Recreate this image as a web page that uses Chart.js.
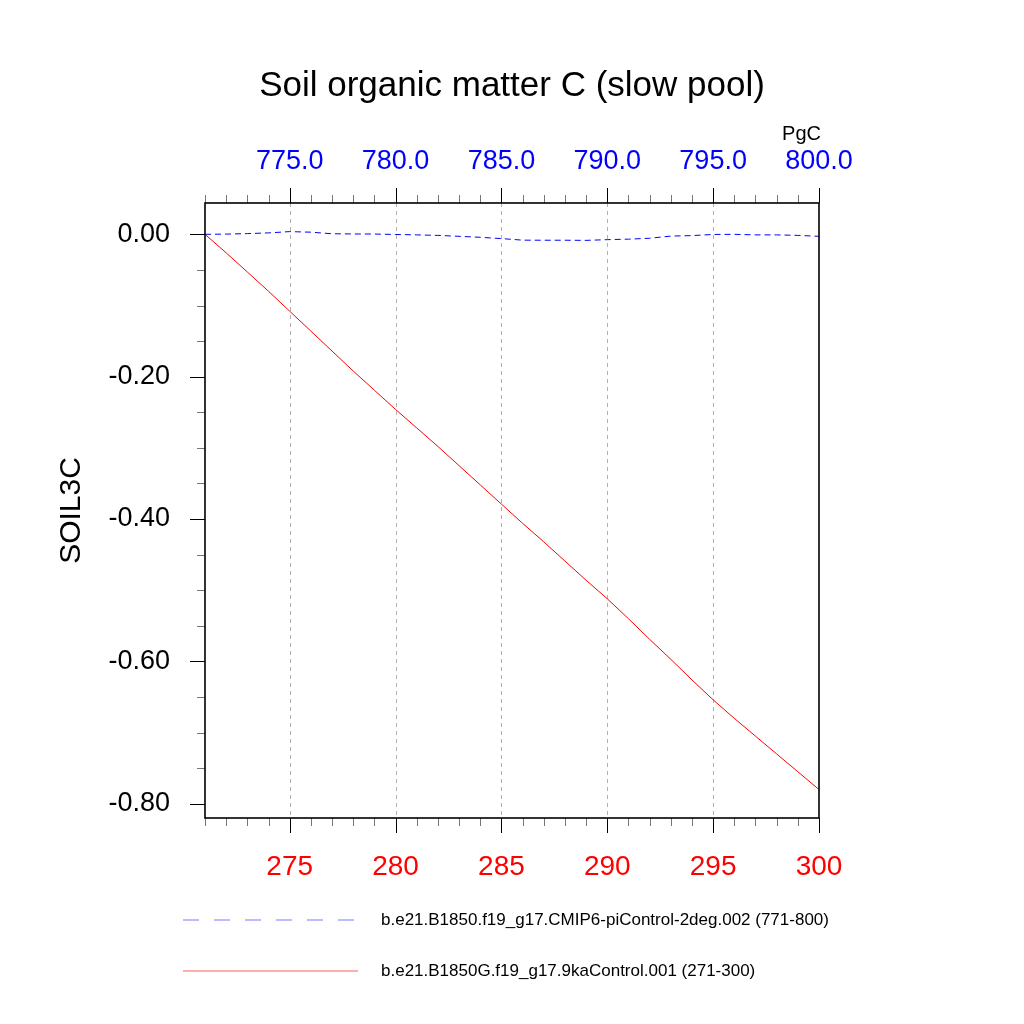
<!DOCTYPE html>
<html>
<head>
<meta charset="utf-8">
<script src="https://cdn.jsdelivr.net/npm/chart.js@4.4.0/dist/chart.umd.min.js"></script>
<style>
body { margin: 0; background: #fff; }
canvas { display: block; }
</style>
</head>
<body>
<canvas id="chart" width="1024" height="1024"></canvas>
<script>
// years of each run
const yearsG = [271, 272, 273, 274, 275, 276, 277, 278, 279, 280, 281, 282, 283, 284, 285,
    286, 287, 288, 289, 290, 291, 292, 293, 294, 295, 296, 297, 298, 299, 300];
const yearsPI = [771, 772, 773, 774, 775, 776, 777, 778, 779, 780, 781, 782, 783, 784, 785,
    786, 787, 788, 789, 790, 791, 792, 793, 794, 795, 796, 797, 798, 799, 800];

// SOIL3C anomaly (PgC)
const soilG = [0, -0.026, -0.053, -0.080, -0.108, -0.136, -0.164, -0.192, -0.219, -0.246,
    -0.272, -0.298, -0.325, -0.352, -0.379, -0.406, -0.432, -0.459, -0.486, -0.512,
    -0.540, -0.569, -0.597, -0.626, -0.654, -0.680, -0.705, -0.730, -0.755, -0.780];
const soilPI = [0, 0.0003, 0.001, 0.002, 0.0038, 0.003, 0.0008, 0.0005, 0.0004, -0.0002,
    -0.0008, -0.0015, -0.0028, -0.0042, -0.006, -0.0082, -0.0083, -0.0083, -0.0085, -0.0075,
    -0.0068, -0.0055, -0.0025, -0.0018, -0.0002, 0.0, -0.0008, -0.0008, -0.0015, -0.0028];

const labelG = "b.e21.B1850G.f19_g17.9kaControl.001 (271-300)";
const labelPI = "b.e21.B1850.f19_g17.CMIP6-piControl-2deg.002 (771-800)";

// labelled ticks
const bottomTicks = [275, 280, 285, 290, 295, 300];
const topTicks = [775, 780, 785, 790, 795, 800];
const leftTicks = [0, -0.2, -0.4, -0.6, -0.8];

const FONT = "'Liberation Sans', Arial, Helvetica, sans-serif";

function hasTick(list, v) {
    return list.some(t => Math.abs(t - v) < 1e-6);
}

function strokeLine(ctx, x1, y1, x2, y2) {
    ctx.beginPath();
    ctx.moveTo(x1, y1);
    ctx.lineTo(x2, y2);
    ctx.stroke();
}

const nclFrame = {
    id: 'nclFrame',
    beforeDatasetsDraw(chart) {
        const { ctx, chartArea: a, scales } = chart;
        ctx.save();
        ctx.strokeStyle = '#b0b0b0';
        ctx.lineWidth = 1;
        ctx.setLineDash([4, 4]);
        bottomTicks.filter(v => v < 300).forEach(v => {
            const px = Math.round(scales.x.getPixelForValue(v)) + 0.5;
            strokeLine(ctx, px, a.top, px, a.bottom);
        });
        ctx.restore();
    },
    afterDatasetsDraw(chart) {
        const { ctx, chartArea: a, scales } = chart;
        ctx.save();
        ctx.lineWidth = 1;

        // bottom axis ticks
        yearsG.forEach(v => {
            const px = Math.round(scales.x.getPixelForValue(v)) + 0.5;
            const major = hasTick(bottomTicks, v);
            ctx.strokeStyle = major ? '#000' : '#777';
            strokeLine(ctx, px, a.bottom, px, a.bottom + (major ? 15 : 8));
        });
        // top axis ticks
        yearsPI.forEach(v => {
            const px = Math.round(scales.x2.getPixelForValue(v)) + 0.5;
            const major = hasTick(topTicks, v);
            ctx.strokeStyle = major ? '#000' : '#777';
            strokeLine(ctx, px, a.top, px, a.top - (major ? 15 : 8));
        });
        // left axis ticks every 0.05
        for (let i = 0; i <= 16; i++) {
            const v = -0.05 * i;
            const py = Math.round(scales.y.getPixelForValue(v)) + 0.5;
            const major = hasTick(leftTicks, v);
            ctx.strokeStyle = major ? '#000' : '#777';
            strokeLine(ctx, a.left, py, a.left - (major ? 15 : 8), py);
        }

        // frame
        ctx.strokeStyle = '#000';
        ctx.lineWidth = 1.6;
        ctx.strokeRect(a.left, a.top, a.right - a.left, a.bottom - a.top);
        ctx.restore();
    },
    afterDraw(chart) {
        const { ctx } = chart;
        ctx.save();
        ctx.fillStyle = '#000';

        ctx.font = '35px ' + FONT;
        ctx.textAlign = 'center';
        ctx.textBaseline = 'alphabetic';
        ctx.fillText('Soil organic matter C (slow pool)', 512, 96);

        ctx.font = '20px ' + FONT;
        ctx.textAlign = 'right';
        ctx.fillText('PgC', 821, 140);

        // legend
        const entries = [
            { ds: chart.data.datasets[1], y: 920, x2: 355 },
            { ds: chart.data.datasets[0], y: 971, x2: 358 }
        ];
        ctx.font = '17px ' + FONT;
        ctx.textAlign = 'left';
        ctx.textBaseline = 'middle';
        entries.forEach(e => {
            ctx.strokeStyle = e.ds.legendColor;
            ctx.lineWidth = 1;
            ctx.setLineDash(e.ds.legendDash);
            strokeLine(ctx, 183, e.y, e.x2, e.y);
            ctx.setLineDash([]);
            ctx.fillText(e.ds.label, 381, e.y);
        });
        ctx.restore();
    }
};

new Chart(document.getElementById('chart'), {
    type: 'line',
    data: {
        datasets: [
            {
                label: labelG,
                data: yearsG.map((x, i) => ({ x: x, y: soilG[i] })),
                xAxisID: 'x',
                borderColor: 'rgba(255, 0, 0, 1)',
                borderWidth: 1,
                pointRadius: 0,
                tension: 0,
                fill: false,
                legendColor: 'rgba(255, 90, 90, 1)',
                legendDash: []
            },
            {
                label: labelPI,
                data: yearsPI.map((x, i) => ({ x: x, y: soilPI[i] })),
                xAxisID: 'x2',
                borderColor: 'rgba(0, 0, 255, 1)',
                borderWidth: 1,
                borderDash: [6, 4],
                pointRadius: 0,
                tension: 0,
                fill: false,
                legendColor: 'rgba(120, 120, 255, 1)',
                legendDash: [16, 15]
            }
        ]
    },
    options: {
        responsive: false,
        animation: false,
        devicePixelRatio: 1,
        layout: { padding: { left: 0, right: 205, top: 0, bottom: 0 } },
        plugins: {
            legend: { display: false },
            title: { display: false },
            tooltip: { enabled: false }
        },
        scales: {
            x: {
                type: 'linear',
                position: 'bottom',
                min: 271,
                max: 300,
                grid: { display: false, drawTicks: false },
                border: { display: false },
                ticks: {
                    stepSize: 1,
                    autoSkip: false,
                    maxRotation: 0,
                    padding: 32,
                    color: '#ff0000',
                    font: { family: FONT, size: 28 },
                    callback: v => hasTick(bottomTicks, v) ? String(v) : ''
                },
                afterFit: s => { s.height = 206; }
            },
            x2: {
                type: 'linear',
                position: 'top',
                min: 771,
                max: 800,
                grid: { display: false, drawTicks: false },
                border: { display: false },
                ticks: {
                    stepSize: 1,
                    autoSkip: false,
                    maxRotation: 0,
                    padding: 25,
                    color: '#0000ff',
                    font: { family: FONT, size: 27 },
                    callback: v => hasTick(topTicks, v) ? v.toFixed(1) : ''
                },
                afterFit: s => { s.height = 203; }
            },
            y: {
                type: 'linear',
                position: 'left',
                min: -0.82,
                max: 0.044,
                grid: { display: false, drawTicks: false },
                border: { display: false },
                ticks: {
                    stepSize: 0.05,
                    autoSkip: false,
                    includeBounds: false,
                    padding: 35,
                    color: '#000',
                    font: { family: FONT, size: 27 },
                    callback: v => hasTick(leftTicks, v) ? v.toFixed(2) : ''
                },
                title: {
                    display: true,
                    text: 'SOIL3C',
                    color: '#000',
                    font: { family: FONT, size: 30 },
                    padding: { top: 54, bottom: 0 }
                },
                afterFit: s => { s.width = 205; }
            }
        }
    },
    plugins: [nclFrame]
});
</script>
</body>
</html>
